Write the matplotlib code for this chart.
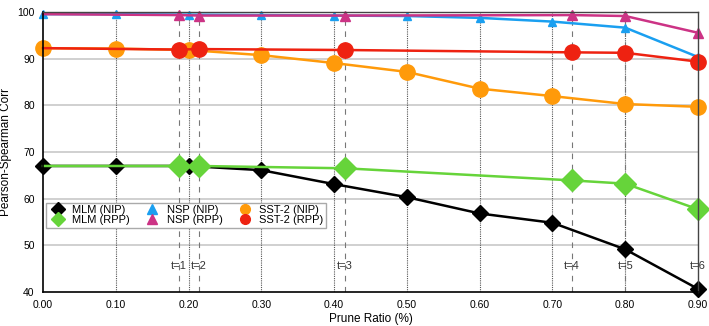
import matplotlib.pyplot as plt

# prune ratios for the NIP runs
ratio_nip = [0.0, 0.1, 0.2, 0.3, 0.4, 0.5, 0.6, 0.7, 0.8, 0.9]
# prune ratios reached at each step t of the RPP runs (first point = unpruned)
ratio_rpp = [0.0, 0.187, 0.214, 0.415, 0.727, 0.8, 0.9]
t_labels = ["t=1", "t=2", "t=3", "t=4", "t=5", "t=6"]

mlm_nip = [67.0, 67.0, 67.0, 66.1, 63.1, 60.3, 56.8, 54.8, 49.1, 40.6]
mlm_rpp = [67.0, 67.0, 67.0, 66.5, 63.9, 63.2, 57.7]
nsp_nip = [99.6, 99.6, 99.5, 99.4, 99.3, 99.2, 98.8, 98.0, 96.7, 90.4]
nsp_rpp = [99.6, 99.4, 99.3, 99.3, 99.4, 99.2, 95.6]
sst_nip = [92.3, 92.2, 91.9, 90.8, 89.1, 87.2, 83.6, 82.0, 80.3, 79.7]
sst_rpp = [92.3, 92.0, 92.1, 91.9, 91.4, 91.3, 89.4]

plt.rcParams['font.family'] = ['Liberation Sans', 'DejaVu Sans']

fig = plt.figure(figsize=(7.09, 3.26), dpi=100)
ax = fig.add_axes([0.0607, 0.1052, 0.9238, 0.8571])

# grid: solid horizontal, dotted at ticks, dashed at the RPP steps
for v in [50, 60, 70, 80, 90]:
    ax.axhline(v, color='#c8c8c8', lw=1.2, zorder=0)
for v in ratio_nip[1:-1]:
    ax.axvline(v, color='#555555', lw=0.8, ls=(0, (1, 1)), zorder=0)
for v in ratio_rpp[1:-1]:
    ax.axvline(v, color='#777777', lw=0.8, ls=(0, (5, 5)), zorder=0)
for v, t in zip(ratio_rpp[1:], t_labels):
    ax.text(v, 45.6, t, ha='center', va='center', fontsize=8, color='#333333')

rpp_marks = list(range(1, len(ratio_rpp)))
lines = []
lines += ax.plot(ratio_nip, mlm_nip, color='black', marker='D', ms=8, lw=1.8, label='MLM (NIP)')
lines += ax.plot(ratio_rpp, mlm_rpp, color='#66d43a', marker='D', ms=11, lw=1.8,
                 markevery=rpp_marks, label='MLM (RPP)')
lines += ax.plot(ratio_nip, nsp_nip, color='#1a9ff0', marker='^', ms=6, lw=1.8, label='NSP (NIP)')
lines += ax.plot(ratio_rpp, nsp_rpp, color='#cc3385', marker='^', ms=7, lw=1.8,
                 markevery=rpp_marks, label='NSP (RPP)')
lines += ax.plot(ratio_nip, sst_nip, color='#ff9a0a', marker='o', ms=11, lw=1.8, label='SST-2 (NIP)')
lines += ax.plot(ratio_rpp, sst_rpp, color='#ee2211', marker='o', ms=11, lw=1.8,
                 markevery=rpp_marks, label='SST-2 (RPP)')
for ln in lines:
    ln.set_clip_on(False)

ax.set_xlim(0, 0.9)
ax.set_ylim(40, 100)
ax.set_xticks(ratio_nip)
ax.set_xticklabels(['%.2f' % v for v in ratio_nip])
ax.set_yticks([40, 50, 60, 70, 80, 90, 100])
ax.tick_params(labelsize=7.5, length=0, pad=6)
for s in ['left', 'bottom']:
    ax.spines[s].set_color('black')
    ax.spines[s].set_linewidth(1.2)
for s in ['top', 'right']:
    ax.spines[s].set_color('#444444')
    ax.spines[s].set_linewidth(1.0)
ax.set_xlabel('Prune Ratio (%)', fontsize=8.5, labelpad=2)
ax.set_ylabel('Pearson-Spearman Corr', fontsize=8.5)
ax.yaxis.set_label_coords(-0.047, 0.5)

leg = ax.legend(ncol=3, loc='upper left', bbox_to_anchor=(0.004, 0.318), fontsize=8,
                fancybox=False, edgecolor='#aaaaaa', framealpha=1, borderaxespad=0,
                handlelength=1.8, columnspacing=1.1, handletextpad=0.4,
                labelspacing=0.02, borderpad=0.2)
for h in leg.legend_handles:
    h.set_linestyle('none')
    h.set_markersize(7)

fig.savefig('out.png', dpi=100)
